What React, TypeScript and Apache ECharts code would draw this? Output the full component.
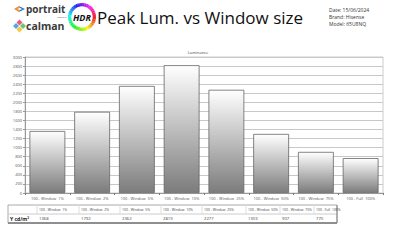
import React, { useEffect, useRef } from "react";
import * as echarts from "echarts";

const categories = [
  "100 - Window  1%",
  "100 - Window  2%",
  "100 - Window  5%",
  "100 - Window  10%",
  "100 - Window  25%",
  "100 - Window  50%",
  "100 - Window  75%",
  "100 - Full  100%",
];
const luminance = [1368, 1792, 2362, 2819, 2277, 1303, 907, 770];
const infoLines = ["Date: 15/06/2024", "Brand: Hisense", "Model: 65U8NQ"];
const tableColX = [38, 80, 121, 162, 203, 247, 281, 315];
const FONT = "'Open Sans', 'Noto Sans', sans-serif";

function buildGraphics(): any[] {
  const g: any[] = [];
  g.push({ type: "polygon", shape: { points: [[14, 9], [19, 6], [20, 8], [17, 9], [20, 10], [19, 12]] }, style: { fill: "#f28c28" } });
  g.push({ type: "polygon", shape: { points: [[19, 6], [25, 9], [19, 12], [20, 10], [22, 9], [20, 8]] }, style: { fill: "#2a7fd4" } });
  g.push({ type: "text", x: 26, y: 8.5, style: { text: "portrait", font: `bold 10px ${FONT}`, fill: "#3a3a3a", verticalAlign: "middle", lineHeight: 10 } });
  g.push({ type: "text", x: 57, y: 17, style: { text: "displays", font: `2.5px ${FONT}`, fill: "#555", verticalAlign: "middle", lineHeight: 2.5 } });
  const dcol = ["#e8487a", "#3aa0e0", "#5cc05a", "#f2c230"];
  const dpos = [[19.5, 22.5], [16, 26], [23, 26], [19.5, 29.5]];
  dpos.forEach((p, i) => {
    const [cx, cy] = p;
    g.push({ type: "polygon", shape: { points: [[cx, cy - 3], [cx + 3, cy], [cx, cy + 3], [cx - 3, cy]] }, style: { fill: dcol[i], opacity: 0.9 } });
  });
  g.push({ type: "text", x: 26, y: 26, style: { text: "calman", font: `bold 10.5px ${FONT}`, fill: "#3a3a3a", verticalAlign: "middle" } });
  const n = 36;
  for (let i = 0; i < n; i++) {
    const a0 = (i / n) * Math.PI * 2;
    const a1 = ((i + 1.05) / n) * Math.PI * 2;
    g.push({
      type: "sector",
      shape: { cx: 82, cy: 17, r: 14, r0: 10.5, startAngle: a0, endAngle: a1 },
      style: { fill: `hsl(${(i / n) * 360}, 90%, 55%)` },
    });
  }
  g.push({ type: "circle", shape: { cx: 82, cy: 17, r: 10.5 }, style: { fill: "#fff" } });
  g.push({ type: "text", x: 82, y: 17.5, style: { text: "HDR", font: `italic bold 9px ${FONT}`, fill: "#111", align: "center", verticalAlign: "middle" } });
  g.push({ type: "text", x: 97, y: 17, style: { text: "Peak Lum. vs Window size", font: `17px ${FONT}`, fill: "#111", verticalAlign: "middle" } });
  infoLines.forEach((t, i) => {
    g.push({ type: "text", x: 329, y: 10 + i * 7, style: { text: t, font: `5px ${FONT}`, fill: "#333", verticalAlign: "middle" } });
  });
  const tx0 = 8, tx1 = 337, ty0 = 205, ty1 = 214, ty2 = 223;
  g.push({ type: "rect", shape: { x: tx0, y: ty0, width: tx1 - tx0, height: ty2 - ty0 }, style: { fill: "#fff", stroke: "#aaa", lineWidth: 1 } });
  g.push({ type: "line", shape: { x1: tx0, y1: ty1, x2: tx1, y2: ty1 }, style: { stroke: "#ccc", lineWidth: 1 } });
  g.push({ type: "line", shape: { x1: tx0, y1: ty2, x2: tx1, y2: ty2 }, style: { stroke: "#777", lineWidth: 1.5 } });
  g.push({ type: "line", shape: { x1: tx1, y1: ty0, x2: tx1, y2: ty2 }, style: { stroke: "#888", lineWidth: 1 } });
  tableColX.forEach((x, i) => {
    g.push({ type: "line", shape: { x1: x - 1, y1: ty0, x2: x - 1, y2: ty1 }, style: { stroke: "#ddd", lineWidth: 1 } });
    g.push({ type: "text", x: x + 1, y: (ty0 + ty1) / 2, style: { text: categories[i], font: `3.4px ${FONT}`, fill: "#444", verticalAlign: "middle" } });
    g.push({ type: "text", x: x + 1, y: (ty1 + ty2) / 2, style: { text: String(luminance[i]), font: `4.2px ${FONT}`, fill: "#444", verticalAlign: "middle" } });
  });
  g.push({ type: "text", x: 10, y: (ty1 + ty2) / 2, style: { text: "Y cd/m²", font: `bold 5px ${FONT}`, fill: "#222", verticalAlign: "middle" } });
  return g;
}

export default function App() {
  const ref = useRef<HTMLDivElement>(null);
  useEffect(() => {
    if (!ref.current) return;
    const chart = echarts.init(ref.current, undefined, { renderer: "svg" });
    chart.setOption({
      animation: false,
      backgroundColor: "#fff",
      title: {
        text: "Luminance",
        left: 198,
        top: 50,
        textAlign: "center",
        textStyle: { fontSize: 4, fontWeight: "normal", color: "#444", fontFamily: FONT },
        padding: 0,
      },
      grid: { left: 25, right: 17, top: 57, bottom: 47, show: true, borderColor: "#ccc", borderWidth: 1, outerBoundsMode: "none" },
      xAxis: {
        type: "category",
        data: categories,
        axisLine: { lineStyle: { color: "#999" } },
        axisTick: { show: true, length: 2, lineStyle: { color: "#777" } },
        axisLabel: { fontSize: 4, color: "#555", margin: 3, interval: 0, fontFamily: FONT },
      },
      yAxis: {
        type: "value",
        min: 0,
        max: 3000,
        interval: 200,
        axisLine: { show: true, lineStyle: { color: "#999" } },
        axisTick: { show: true, length: 2, lineStyle: { color: "#999" } },
        axisLabel: { fontSize: 4, color: "#555", margin: 3, fontFamily: FONT, formatter: (v: number) => String(v) },
        splitLine: { lineStyle: { color: "#c8c8c8", width: 1 } },
      },
      series: [
        {
          type: "bar",
          data: luminance,
          barCategoryGap: "20%",
          itemStyle: {
            color: {
              type: "linear", x: 0, y: 0, x2: 0, y2: 1,
              colorStops: [
                { offset: 0, color: "#ffffff" },
                { offset: 1, color: "#7c7c7c" },
              ],
            },
            borderColor: "#666",
            borderWidth: 0.8,
          },
        },
      ],
      graphic: buildGraphics(),
    });
    return () => chart.dispose();
  }, []);
  return <div ref={ref} style={{ position: "fixed", left: 0, top: 0, width: 400, height: 240 }} />;
}
